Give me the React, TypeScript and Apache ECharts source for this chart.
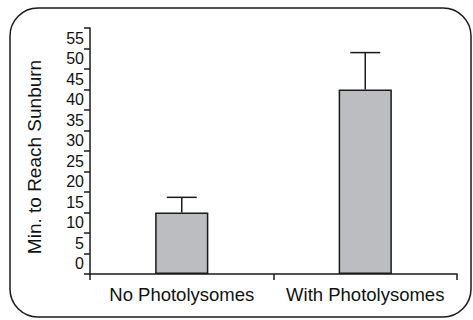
import React, { useEffect, useRef } from "react";
import * as echarts from "echarts";

const categories = ["No Photolysomes", "With Photolysomes"];
const barValues = [15, 45];
const errorTops = [18.7, 54];
const yTickLabels = ["0", "5", "10", "15", "20", "25", "30", "35", "40", "45", "50", "55"];

export default function App() {
  const ref = useRef<HTMLDivElement>(null);
  useEffect(() => {
    if (!ref.current) return;
    const chart = echarts.init(ref.current, null, { renderer: "svg" });
    const font = "'Liberation Sans', Arial, Helvetica, sans-serif";
    chart.setOption({
      animation: false,
      backgroundColor: "#ffffff",
      graphic: [
        {
          type: "rect",
          shape: { x: 10, y: 8, width: 461, height: 309, r: 28 },
          style: { fill: "none", stroke: "#1a1a1a", lineWidth: 1.5 },
          silent: true,
        },
      ],
      grid: { left: 90, right: 16, top: 28, bottom: 46 },
      xAxis: {
        type: "category",
        data: categories,
        boundaryGap: true,
        axisLine: { show: true, lineStyle: { color: "#1a1a1a", width: 1.5 } },
        axisTick: { show: true, length: 6, interval: 0, lineStyle: { color: "#1a1a1a", width: 1.5 } },
        axisLabel: { color: "#111", fontSize: 18.5, fontFamily: font, margin: 11, interval: 0 },
      },
      yAxis: [
        {
          type: "category",
          data: yTickLabels,
          boundaryGap: true,
          name: "Min. to Reach Sunburn",
          nameLocation: "middle",
          nameRotate: 90,
          nameGap: 46,
          nameTextStyle: { color: "#111", fontSize: 19, fontFamily: font, padding: [0, 12, 0, 0] },
          axisLine: { show: true, lineStyle: { color: "#1a1a1a", width: 1.5 } },
          axisTick: { show: true, length: 6, interval: 0, lineStyle: { color: "#1a1a1a", width: 1.5 } },
          axisLabel: { color: "#111", fontSize: 16, fontFamily: font, margin: 6, interval: 0 },
          splitLine: { show: false },
        },
        {
          type: "value",
          min: 0,
          max: 60,
          interval: 5,
          show: false,
          splitLine: { show: false },
        },
      ],
      series: [
        {
          type: "bar",
          xAxisIndex: 0,
          yAxisIndex: 1,
          data: barValues,
          barWidth: "29%",
          itemStyle: { color: "#bcbdc1", borderColor: "#1a1a1a", borderWidth: 1.5 },
          z: 2,
        },
        {
          type: "custom",
          xAxisIndex: 0,
          yAxisIndex: 1,
          data: categories.map((_, i) => [i, barValues[i], errorTops[i]]),
          z: 3,
          renderItem: (params: any, api: any) => {
            const idx = api.value(0);
            const p0 = api.coord([idx, api.value(1)]);
            const p1 = api.coord([idx, api.value(2)]);
            const half = 15;
            const style = { stroke: "#1a1a1a", lineWidth: 1.5 };
            return {
              type: "group",
              children: [
                { type: "line", shape: { x1: p0[0], y1: p0[1], x2: p1[0], y2: p1[1] }, style },
                { type: "line", shape: { x1: p1[0] - half, y1: p1[1], x2: p1[0] + half, y2: p1[1] }, style },
              ],
            };
          },
        },
      ],
    });
    return () => chart.dispose();
  }, []);
  return (
    <div
      ref={ref}
      style={{ position: "fixed", left: 0, top: 0, width: 473, height: 320, background: "#fff" }}
    />
  );
}
